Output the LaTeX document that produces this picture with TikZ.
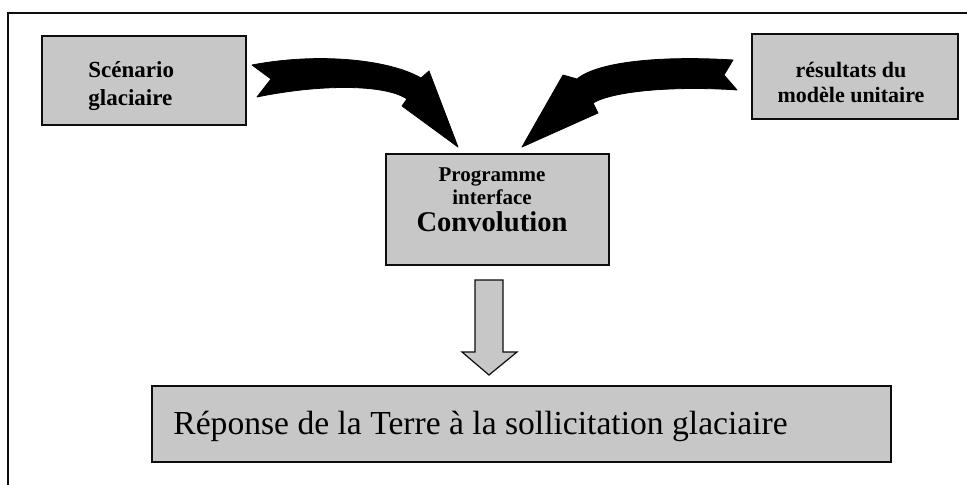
\documentclass[tikz,border=0pt]{standalone}
\usepackage{fontspec}
\setmainfont{Liberation Serif}
\usepackage{xcolor}
\usepackage{tikz}
\definecolor{BoxGrey}{gray}{0.78}
\definecolor{FrameBlack}{gray}{0.05}

\begin{document}
\begin{tikzpicture}[x=0.5pt,y=-0.5pt,
    greybox/.style={draw=FrameBlack, fill=BoxGrey, line width=0.6pt, inner sep=0pt},
    boxlabel/.style={inner sep=0pt, font=\bfseries\fontsize{11.5}{14}\selectfont},
    bendarrow/.style={fill=black, draw=black, line width=0.4pt, line join=round}]
  \def\W{967} \def\H{485}
  \useasboundingbox (0,0) rectangle (\W,\H);

  % ----- OUTER FRAME -----
  \draw[FrameBlack, line width=0.9pt] (8,\H) -- (8,13) -- (\W,13);

  % ----- BOXES -----
  \node[greybox, minimum width=102pt, minimum height=44.5pt] (scen) at (144,80.5) {};
  \node[greybox, minimum width=103pt, minimum height=42.5pt] (modele) at (855,76.5) {};
  \node[greybox, minimum width=111.5pt, minimum height=55.5pt] (conv) at (497.5,209.5) {};
  \node[greybox, minimum width=369.5pt, minimum height=38pt] (reponse) at (521.5,424) {};

  % texts
  \node[boxlabel, align=left, anchor=west] (scentext) at (88,86) {Scénario\\glaciaire};
  \node[boxlabel, align=center, font=\bfseries\fontsize{11}{12.5}\selectfont]
    (modeletext) at (851,82) {résultats du\\modèle unitaire};
  \node[boxlabel, align=center, font=\bfseries\fontsize{10.5}{11.5}\selectfont]
    (convtext) at (492,200) {Programme\\interface\\[2pt]{\fontsize{14.3}{12}\selectfont Convolution}};
  \node[inner sep=0pt, anchor=west, font=\fontsize{16.8}{18}\selectfont]
    (reponsetext) at (173,426) {Réponse de la Terre à la sollicitation glaciaire};

  % ----- CURVED ARROWS -----
  \filldraw[bendarrow] (252,65) .. controls (320,52) and (390,60) .. (421,78)
    -- (429,71) -- (458,147) -- (402,106) -- (407,99)
    .. controls (385,84) and (320,84) .. (257,97) -- (271,79) -- cycle;
  \filldraw[bendarrow] (733,60) .. controls (670,56) and (600,60) .. (577,79)
    -- (563,75) -- (522,147) -- (598,113) -- (593,103)
    .. controls (615,90) and (680,86) .. (737,90) -- (724,75) -- cycle;

  % ----- DOWN ARROW -----
  \filldraw[greybox] (475,280) -- (503,280) -- (503,352) -- (517,352)
    -- (489,375) -- (462,352) -- (475,352) -- cycle;
\end{tikzpicture}
\end{document}
